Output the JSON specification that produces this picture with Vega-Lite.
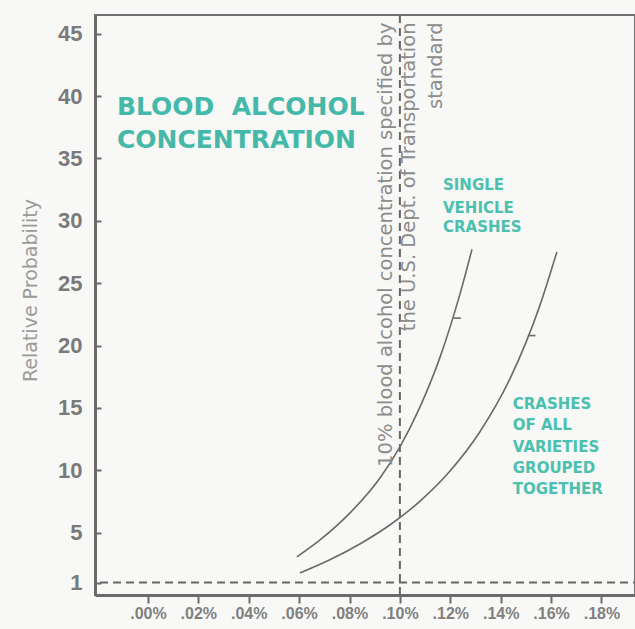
{
  "$schema": "https://vega.github.io/schema/vega-lite/v6.json",
  "width": 540,
  "height": 580,
  "autosize": {"type": "none"},
  "padding": {"left": 95, "top": 15, "right": 0, "bottom": 34},
  "background": "#f8f8f6",
  "config": {
    "view": {"stroke": "#707070", "strokeWidth": 2},
    "axis": {"grid": false}
  },
  "datasets": {
    "curves": [
      {"series": "single", "x": 0.0591, "y": 3.05},
      {"series": "single", "x": 0.0683, "y": 4.41},
      {"series": "single", "x": 0.0802, "y": 6.58},
      {"series": "single", "x": 0.0921, "y": 9.38},
      {"series": "single", "x": 0.1000, "y": 11.87},
      {"series": "single", "x": 0.1079, "y": 15.04},
      {"series": "single", "x": 0.1159, "y": 19.05},
      {"series": "single", "x": 0.1238, "y": 24.10},
      {"series": "single", "x": 0.1286, "y": 27.71},
      {"series": "all", "x": 0.0603, "y": 1.76},
      {"series": "all", "x": 0.0722, "y": 2.82},
      {"series": "all", "x": 0.0841, "y": 4.09},
      {"series": "all", "x": 0.0960, "y": 5.61},
      {"series": "all", "x": 0.1079, "y": 7.51},
      {"series": "all", "x": 0.1198, "y": 9.92},
      {"series": "all", "x": 0.1317, "y": 13.07},
      {"series": "all", "x": 0.1437, "y": 17.34},
      {"series": "all", "x": 0.1556, "y": 23.24},
      {"series": "all", "x": 0.1623, "y": 27.51}
    ],
    "hrule": [{"x": -0.019, "x2": 0.1933, "y": 1}],
    "vrule": [{"x": 0.1, "y": 0, "y2": 46.5}],
    "curveticks": [
      {"x": 0.1212, "x2": 0.1242, "y": 22.2},
      {"x": 0.1508, "x2": 0.1538, "y": 20.8}
    ],
    "title": [
      {"text": "BLOOD\u00a0\u00a0ALCOHOL", "x": -0.0123, "y": 39.1},
      {"text": "CONCENTRATION", "x": -0.0123, "y": 36.45}
    ],
    "notes": [
      {"text": "SINGLE", "x": 0.1171, "y": 32.85},
      {"text": "VEHICLE", "x": 0.1171, "y": 31.0},
      {"text": "CRASHES", "x": 0.1171, "y": 29.5},
      {"text": "CRASHES", "x": 0.1448, "y": 15.3},
      {"text": "OF ALL", "x": 0.1448, "y": 13.6},
      {"text": "VARIETIES", "x": 0.1448, "y": 11.85},
      {"text": "GROUPED", "x": 0.1448, "y": 10.2},
      {"text": "TOGETHER", "x": 0.1448, "y": 8.5}
    ],
    "vtext": [
      {"text": "10% blood alcohol concentration specified by", "x": 0.0944, "y": 45.9},
      {"text": "the U.S. Dept. of Transportation", "x": 0.1036, "y": 45.9},
      {"text": "standard", "x": 0.1143, "y": 45.9}
    ]
  },
  "layer": [
    {
      "data": {"name": "hrule"},
      "mark": {"type": "rule", "stroke": "#666", "strokeWidth": 2, "strokeDash": [8, 5]},
      "encoding": {
        "x": {"field": "x", "type": "quantitative", "scale": {"domain": [-0.021, 0.1933], "nice": false, "zero": false},
          "axis": {
            "values": [0, 0.02, 0.04, 0.06, 0.08, 0.1, 0.12, 0.14, 0.16, 0.18],
            "labelExpr": "'.' + format(datum.value * 100, '02d') + '%'",
            "title": null,
            "domainColor": "#6a6a6a", "domainWidth": 3,
            "tickColor": "#6a6a6a", "tickWidth": 2, "tickSize": 8,
            "labelFont": "Liberation Sans",
            "labelFontWeight": "bold", "labelFontSize": 16, "labelColor": "#808080",
            "labelPadding": 2
          }},
        "x2": {"field": "x2"},
        "y": {"field": "y", "type": "quantitative", "scale": {"domain": [0, 46.5], "nice": false, "zero": false},
          "axis": {
            "values": [1, 5, 10, 15, 20, 25, 30, 35, 40, 45],
            "title": "Relative Probability",
            "titleFont": "DejaVu Sans", "titleFontWeight": "normal", "titleFontSize": 19, "titleColor": "#9a9a9a",
            "titleX": -65, "titleY": 275, "titleAlign": "center", "titleBaseline": "middle", "titleAngle": 270,
            "domainColor": "#6a6a6a", "domainWidth": 3,
            "tickColor": "#6a6a6a", "tickWidth": 2, "tickSize": -6,
            "labelFont": "Liberation Sans",
            "labelFontWeight": "bold", "labelFontSize": 22, "labelColor": "#7a7a7a",
            "labelPadding": 19
          }}
      }
    },
    {
      "data": {"name": "vrule"},
      "mark": {"type": "rule", "stroke": "#666", "strokeWidth": 2, "strokeDash": [8, 5]},
      "encoding": {
        "x": {"field": "x", "type": "quantitative"},
        "y": {"field": "y", "type": "quantitative"},
        "y2": {"field": "y2"}
      }
    },
    {
      "data": {"name": "curves"},
      "mark": {"type": "line", "interpolate": "monotone", "stroke": "#6a6a6a", "strokeWidth": 1.6},
      "encoding": {
        "x": {"field": "x", "type": "quantitative"},
        "y": {"field": "y", "type": "quantitative"},
        "detail": {"field": "series"}
      }
    },
    {
      "data": {"name": "curveticks"},
      "mark": {"type": "rule", "stroke": "#6a6a6a", "strokeWidth": 1.6},
      "encoding": {
        "x": {"field": "x", "type": "quantitative"},
        "x2": {"field": "x2"},
        "y": {"field": "y", "type": "quantitative"}
      }
    },
    {
      "data": {"name": "title"},
      "mark": {"type": "text", "align": "left", "baseline": "middle", "font": "DejaVu Sans", "fontWeight": "bold", "fontSize": 25, "fill": "#45b9a9"},
      "encoding": {
        "x": {"field": "x", "type": "quantitative"},
        "y": {"field": "y", "type": "quantitative"},
        "text": {"field": "text"}
      }
    },
    {
      "data": {"name": "notes"},
      "mark": {"type": "text", "align": "left", "baseline": "middle", "font": "DejaVu Sans", "fontWeight": "bold", "fontSize": 15, "fill": "#4cc0ae"},
      "encoding": {
        "x": {"field": "x", "type": "quantitative"},
        "y": {"field": "y", "type": "quantitative"},
        "text": {"field": "text"}
      }
    },
    {
      "data": {"name": "vtext"},
      "mark": {"type": "text", "align": "right", "baseline": "middle", "angle": 270, "font": "DejaVu Sans", "fontSize": 19.5, "fill": "#8c8c8c"},
      "encoding": {
        "x": {"field": "x", "type": "quantitative"},
        "y": {"field": "y", "type": "quantitative"},
        "text": {"field": "text"}
      }
    }
  ]
}
